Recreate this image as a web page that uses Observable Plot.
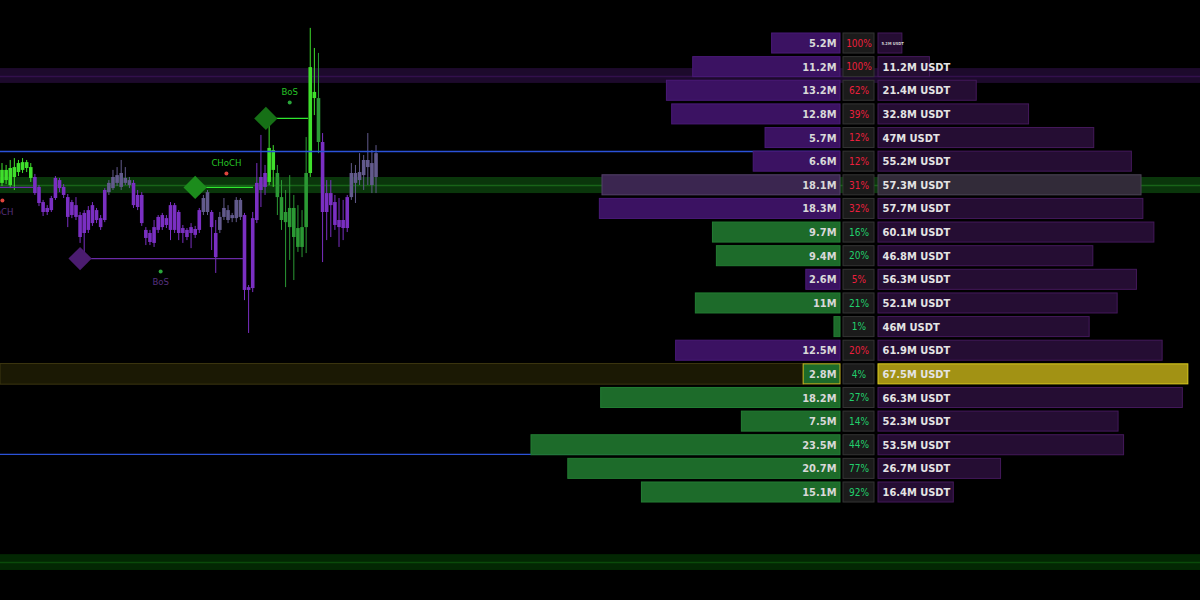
<!DOCTYPE html>
<html><head><meta charset="utf-8">
<script src="https://cdn.jsdelivr.net/npm/d3@7"></script>
<script src="https://cdn.jsdelivr.net/npm/@observablehq/plot@0.6"></script>
<style>
html,body{margin:0;padding:0;background:#000;}
#chart{position:relative;width:1200px;height:600px;background:#000;overflow:hidden;}
#chart svg{position:absolute;top:0;overflow:visible;max-width:none;}
</style></head><body><div id="chart"></div>
<script>
// ---------- Candles (price in USDT) ----------
const candleOpen  = [2130.8,2132.0,2129.9,2133.3,2135.4,2136.3,2139.6,2137.5,2133.3,2129.1,2122.7,2118.5,2119.3,2124.4,2132.0,2129.1,2124.8,2117.2,2121.4,2117.2,2109.6,2119.3,2113.8,2119.3,2115.9,2115.1,2126.9,2128.6,2134.1,2129.1,2132.9,2132.0,2130.8,2120.6,2125.7,2110.9,2105.8,2105.4,2110.9,2112.1,2115.9,2110.9,2121.4,2118.5,2111.7,2107.9,2112.1,2108.8,2110.9,2118.5,2126.9,2118.5,2109.6,2110.9,2116.4,2119.3,2115.9,2115.9,2123.6,2117.2,2085.5,2086.3,2115.1,2133.3,2129.1,2131.2,2144.7,2135.0,2124.8,2118.5,2112.1,2120.2,2111.7,2103.7,2112.1,2135.0,2166.7,2166.7,2148.1,2118.5,2126.5,2122.7,2115.1,2111.7,2111.7,2124.8,2135.0,2132.0,2134.1,2140.5,2139.2,2133.3];
const candleHigh  = [2139.2,2138.4,2140.5,2141.3,2140.5,2141.3,2140.5,2139.2,2134.6,2129.9,2123.6,2121.4,2125.3,2133.7,2132.9,2130.3,2126.1,2123.6,2124.8,2118.5,2119.3,2121.0,2122.7,2120.2,2117.2,2128.6,2132.0,2136.3,2137.5,2140.5,2137.5,2133.3,2132.0,2127.8,2126.9,2112.1,2110.9,2115.1,2117.2,2118.1,2117.2,2122.7,2122.3,2119.3,2113.0,2111.7,2113.8,2112.6,2120.2,2125.7,2127.8,2119.3,2115.1,2118.5,2124.4,2121.4,2118.1,2124.8,2124.4,2118.1,2087.6,2118.5,2139.2,2151.1,2138.4,2158.3,2146.8,2138.4,2132.0,2127.8,2134.1,2125.7,2121.4,2119.3,2150.2,2196.4,2187.9,2185.8,2151.9,2132.0,2132.0,2125.7,2124.4,2123.6,2125.7,2139.2,2138.4,2143.4,2142.6,2151.9,2144.7,2146.8];
const candleLow   = [2129.5,2130.3,2128.6,2127.8,2133.7,2135.0,2135.4,2131.2,2125.7,2121.0,2116.8,2117.2,2118.5,2123.6,2126.9,2124.4,2112.1,2115.9,2115.1,2105.4,2099.4,2109.6,2112.6,2113.8,2110.9,2114.2,2125.7,2127.8,2129.5,2127.8,2129.9,2128.6,2120.2,2119.3,2112.6,2104.5,2104.5,2103.7,2109.6,2110.9,2111.7,2106.6,2109.6,2106.6,2105.4,2106.6,2103.2,2107.5,2109.6,2117.2,2117.2,2102.4,2092.7,2109.6,2115.1,2113.8,2114.2,2114.2,2115.1,2081.2,2067.3,2084.6,2113.8,2120.6,2125.7,2129.9,2129.1,2117.2,2110.9,2086.7,2098.2,2089.7,2101.6,2099.4,2101.1,2133.3,2159.5,2143.4,2097.3,2106.6,2107.9,2110.9,2103.7,2106.6,2110.0,2123.6,2122.3,2129.9,2127.8,2129.9,2126.5,2126.5];
const candleClose = [2136.3,2136.3,2137.1,2137.5,2139.2,2139.6,2137.1,2132.9,2126.5,2122.3,2118.5,2120.2,2124.4,2132.9,2128.6,2125.7,2116.4,2122.7,2116.4,2107.9,2118.1,2110.9,2121.4,2115.1,2112.1,2127.8,2130.8,2133.3,2130.8,2135.0,2130.8,2129.9,2121.4,2125.7,2113.8,2107.5,2109.6,2112.1,2116.4,2117.2,2113.0,2121.4,2110.9,2109.6,2109.6,2110.9,2109.6,2111.3,2119.3,2124.4,2118.5,2112.1,2099.4,2116.4,2120.2,2115.1,2117.2,2123.6,2116.4,2085.5,2086.7,2115.9,2130.8,2127.8,2135.0,2145.6,2136.3,2124.8,2115.1,2114.2,2120.2,2107.9,2103.7,2112.1,2135.0,2179.8,2169.3,2148.1,2118.5,2126.5,2121.4,2113.0,2112.1,2115.1,2124.8,2135.0,2130.8,2135.4,2140.5,2137.5,2129.9,2143.4];
const candleTrend = ["G","G","G","G","G","G","G","G","P","P","P","P","P","P","P","P","P","P","P","P","P","P","P","P","P","P","N","N","N","N","N","N","P","P","P","P","P","P","P","P","P","P","P","P","P","P","P","P","P","N","N","P","P","N","N","N","N","N","N","P","P","P","P","P","P","G","G","G2","G2","G2","G2","G2","G2","G2","G2","G","G","G2","P","P","P","P","P","P","P","N","N","N","N","N","N","N"];

// ---------- Market structure ----------
const swingIndex = [19, 47, 64.2];
const swingPrice = [2099.0, 2129.1, 2158.3];
const swingKind  = ["bear", "bull", "bull2"];
const breakFrom  = [19, 47, 64.2, -1];
const breakTo    = [58.8, 61.2, 74.6, 7.7];
const breakPrice = [2099.0, 2129.1, 2158.3, 2129.1];
const breakKind  = ["bear", "bull", "bull", "bear"];
const labelIndex = [38.6, 54.6, 70, -0.9];
const labelPrice = [2089.3, 2139.6, 2169.7, 2118.9];
const labelText  = ["BoS", "CHoCH", "BoS", "CHoCH"];
const labelKind  = ["bear", "bull", "bull", "bear"];
const dotIndex   = [38.6, 54.6, 70, 0.1];
const dotPrice   = [2093.5, 2135.0, 2165.0, 2123.6];
const dotKind    = ["green", "red", "green", "red"];

// ---------- Zones / levels ----------
const zoneLow  = [2173.1, 2126.5, 1967.0];
const zoneHigh = [2179.4, 2133.3, 1973.7];
const zoneMid  = [2176.0, 2129.9, 1970.4];
const zoneKind = ["supply", "demand", "demandFar"];
const blueLevels = [2144.3, 2016.1];

// ---------- Volume profile (rows, top to bottom) ----------
const levels   = [2190,2180,2170,2160,2150,2140,2130,2120,2110,2100,2090,2080,2070,2060,2050,2040,2030,2020,2010,2000];
const deltaVol = [5.2,11.2,13.2,12.8,5.7,6.6,18.1,18.3,9.7,9.4,2.6,11,0.46,12.5,2.8,18.2,7.5,23.5,20.7,15.1];
const deltaSide= ["sell","sell","sell","sell","sell","sell","sell","sell","buy","buy","sell","buy","buy","sell","buy","buy","buy","buy","buy","buy"];
const totalVol = [5.2,11.2,21.4,32.8,47,55.2,57.3,57.7,60.1,46.8,56.3,52.1,46,61.9,67.5,66.3,52.3,53.5,26.7,16.4];
const pctText  = [100,100,62,39,12,12,31,32,16,20,5,21,1,20,4,27,14,44,77,92];
const highlightLevel = 2130;
const rowStep = 10;

// ---------- build ----------
const FONT = "'DejaVu Sans Condensed','DejaVu Sans',sans-serif";
const yScale = {domain: [1954.3, 2208.2], axis: null};
const xIdxDom = [-0.365, 291.6];

const candles = candleOpen.map((o, i) => ({i, o, h: candleHigh[i], l: candleLow[i], c: candleClose[i], s: candleTrend[i]}));
const trendColor = {G: "#3fe02c", G2: "#2b9934", P: "#7a2fc2", N: "#625a8c"};
const zones = zoneKind.map((k, i) => ({k, lo: zoneLow[i], hi: zoneHigh[i], mid: zoneMid[i]}));
const zoneFill = {supply: "#1d0a2c", demand: "#0a360b", demandFar: "#032703"};
const zoneLine = {supply: "#33104c", demand: "#186418", demandFar: "#0a4a0a"};
const swings = swingIndex.map((x, i) => ({x, y: swingPrice[i], k: swingKind[i]}));
const swingColor = {bear: "#4b1c70", bull: "#1c8c1c", bull2: "#167016"};
const breaks = breakFrom.map((x1, i) => ({x1, x2: breakTo[i], y: breakPrice[i], k: breakKind[i]}));
const breakColor = {bear: "#6a2aa6", bull: "#2fe62f"};
const labels = labelText.map((t, i) => ({t, x: labelIndex[i], y: labelPrice[i], k: labelKind[i]}));
const labelColor = {bear: "#56307e", bull: "#26c426"};
const dots = dotIndex.map((x, i) => ({x, y: dotPrice[i], k: dotKind[i]}));
const dotColor = {green: "#2aa63a", red: "#e0443c"};

const rows = levels.map((p, i) => ({p, lo: p - rowStep / 2, hi: p + rowStep / 2, delta: deltaVol[i], side: deltaSide[i], total: totalVol[i], pct: pctText[i]}));
const pocTotal = d3.max(totalVol);
const isPoc = d => d.total === pocTotal;
const isHi = d => d.p === highlightLevel;

const fmt = v => `${v}M`;

const chart = document.getElementById("chart");
function place(svg, left) { svg.style.left = left + "px"; chart.appendChild(svg); }

// Background: zones + candles + structure
const bg = Plot.plot({
  width: 1200, height: 600, margin: 0,
  style: {background: "transparent", fontFamily: FONT},
  x: {domain: xIdxDom, axis: null}, y: yScale,
  marks: [
    Plot.rect(zones, {x1: () => xIdxDom[0], x2: () => xIdxDom[1], y1: "lo", y2: "hi", fill: d => zoneFill[d.k]}),
    Plot.ruleY(zones, {y: "mid", stroke: d => zoneLine[d.k], strokeWidth: 1.5}),
    Plot.ruleX(candles, {x: "i", y1: "l", y2: "h", stroke: d => trendColor[d.s], strokeWidth: 1}),
    Plot.ruleX(candles, {x: "i", y1: "o", y2: "c", stroke: d => trendColor[d.s], strokeWidth: 3.6}),
    Plot.ruleY(breaks, {y: "y", x1: "x1", x2: "x2", stroke: d => breakColor[d.k], strokeWidth: 1.3}),
    Plot.dot(swings, {x: "x", y: "y", symbol: "diamond2", r: 10.5, fill: d => swingColor[d.k]}),
    Plot.text(labels, {x: "x", y: "y", text: "t", fill: d => labelColor[d.k], fontSize: 9.5, fontFamily: FONT}),
    Plot.dot(dots, {x: "x", y: "y", r: 2, fill: d => dotColor[d.k]})
  ]
});
place(bg, 0);

// Left profile: delta volume bars (growing to the left)
const leftMax = 63.88;
const left = Plot.plot({
  width: 840, height: 600, margin: 0,
  style: {background: "transparent", fontFamily: FONT},
  x: {domain: [0, leftMax], reverse: true, axis: null}, y: yScale,
  marks: [
    Plot.rect(rows.filter(isPoc), {x1: () => leftMax, x2: "delta", y1: "lo", y2: "hi", insetTop: 1.5, insetBottom: 1.5, fill: "#1b1904", stroke: "#3c3610"}),
    Plot.ruleY(blueLevels, {stroke: "#2b52d8", strokeWidth: 1.3}),
    Plot.rect(rows, {x1: () => 0, x2: "delta", y1: "lo", y2: "hi", insetTop: 1.8, insetBottom: 1.8,
      fill: d => isHi(d) ? "#3b2650" : d.side === "buy" ? "#1d6b2a" : "#3b1262",
      stroke: d => isPoc(d) ? "#c8b820" : isHi(d) ? "#54406a" : d.side === "buy" ? "#237c33" : "#4a1a78"}),
    Plot.text(rows.filter(d => d.delta >= 1), {x: () => 0, y: "p", text: d => fmt(d.delta), dx: -4, textAnchor: "end", fill: "#d8d8d8", fontWeight: "bold", fontSize: 11, fontFamily: FONT})
  ]
});
place(left, 0);

// Middle: percent boxes
const mid = Plot.plot({
  width: 31, height: 600, margin: 0,
  style: {background: "transparent", fontFamily: FONT},
  x: {domain: [0, 1], axis: null}, y: yScale,
  marks: [
    Plot.rect(rows, {x1: () => 0, x2: () => 1, y1: "lo", y2: "hi", insetTop: 1.8, insetBottom: 1.8, fill: "#1b1b1b", stroke: "#343434"}),
    Plot.text(rows, {x: () => 0.5, y: "p", text: d => d.pct + "%", fill: d => d.side === "buy" ? "#22d06c" : "#ec1f3d", fontSize: 10, fontFamily: FONT})
  ]
});
place(mid, 843);

// Right profile: total volume
const rightMax = 70.15;
const right = Plot.plot({
  width: 322, height: 600, margin: 0,
  style: {background: "transparent", fontFamily: FONT},
  x: {domain: [0, rightMax], axis: null}, y: yScale,
  marks: [
    Plot.rect(rows, {x1: () => 0, x2: "total", y1: "lo", y2: "hi", insetTop: 1.8, insetBottom: 1.8,
      fill: d => isPoc(d) ? "#a29214" : isHi(d) ? "#322b39" : "#250d33",
      stroke: d => isPoc(d) ? "#dccc1e" : isHi(d) ? "#4c4456" : "#44195b"}),
    Plot.text(rows.filter(d => d.total >= 8), {x: () => 0, y: "p", text: d => fmt(d.total) + " USDT", dx: 4, textAnchor: "start", fill: "#e4e4e4", fontWeight: "bold", fontSize: 11, fontFamily: FONT}),
    Plot.text(rows.filter(d => d.total < 8), {x: () => 0, y: "p", text: d => fmt(d.total) + " USDT", dx: 3, textAnchor: "start", fill: "#d0d0d0", fontWeight: "bold", fontSize: 4, fontFamily: FONT})
  ]
});
place(right, 878);
</script></body></html>
